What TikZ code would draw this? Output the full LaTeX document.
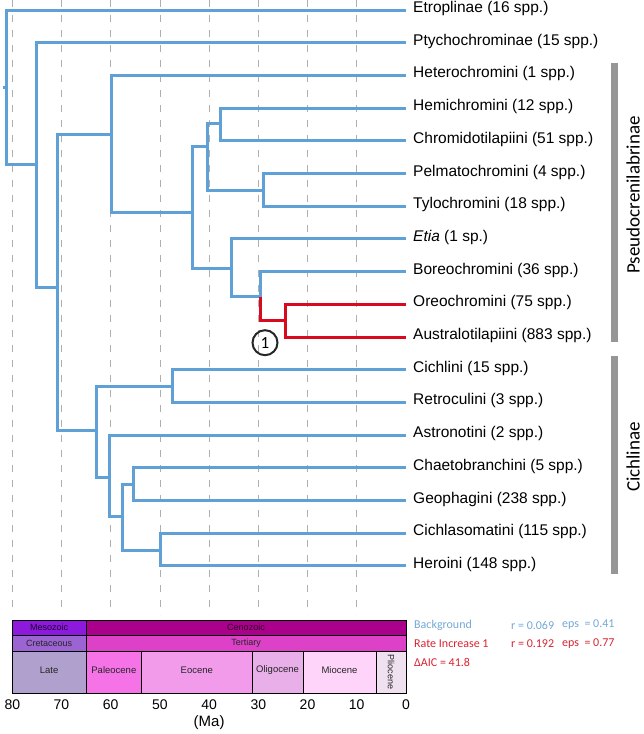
\documentclass[tikz,border=0pt]{standalone}
\usepackage{fontspec}
\setmainfont{Liberation Sans}
\newfontfamily\humanist{Carlito}
\usetikzlibrary{positioning}
\definecolor{treeblue}{RGB}{95,160,215}
\definecolor{ratered}{RGB}{215,10,30}
\definecolor{gridgray}{RGB}{175,175,175}
\definecolor{cladegray}{RGB}{150,150,150}
\definecolor{legblue}{RGB}{115,168,215}
\definecolor{legred}{RGB}{215,35,50}
\definecolor{mesoC}{RGB}{140,25,220}
\definecolor{cenoC}{RGB}{170,0,140}
\definecolor{cretC}{RGB}{155,100,210}
\definecolor{tertC}{RGB}{220,65,200}
\definecolor{lateC}{RGB}{175,160,205}
\definecolor{paleoC}{RGB}{245,115,230}
\definecolor{eoC}{RGB}{242,155,235}
\definecolor{oligoC}{RGB}{232,175,232}
\definecolor{mioC}{RGB}{255,212,250}
\definecolor{plioC}{RGB}{240,225,240}

\begin{document}
\begin{tikzpicture}[x=1pt, y=-1pt,
        branch/.style={draw=treeblue, line width=3pt},
        rateshift/.style={draw=ratered, line width=3pt},
        tip/.style={anchor=west, inner xsep=7pt, inner ysep=0pt, text height=0.75em, text depth=0.25em, font=\fontsize{15.5}{18}\selectfont},
        gridline/.style={draw=gridgray, line width=0.8pt, dash pattern=on 7pt off 8pt},
        cladebar/.style={draw=cladegray, line width=7pt},
        cladelab/.style={rotate=90, font=\humanist\fontsize{19}{22}\selectfont},
        band/.style={draw=black, line width=1pt},
        bandlab/.style={inner sep=0pt, font=\fontsize{9}{10}\selectfont},
        axislab/.style={font=\fontsize{14}{16}\selectfont},
        leg/.style={anchor=west, inner sep=0pt, font=\humanist\fontsize{12}{14}\selectfont}]
        \useasboundingbox (0,0) rectangle (644,734);

        \foreach \i in {0,...,7}
            \draw[gridline] (12.3+49.2*\i, 0) -- (12.3+49.2*\i, 615);

        \foreach \name/\lab [count=\i from 0] in {etro/Etroplinae (16 spp.), ptycho/Ptychochrominae (15 spp.), hetero/Heterochromini (1 spp.), hemi/Hemichromini (12 spp.), chromido/Chromidotilapiini (51 spp.), pelma/Pelmatochromini (4 spp.), tylo/Tylochromini (18 spp.), etia/{\textit{Etia} (1 sp.)}, boreo/Boreochromini (36 spp.), oreo/Oreochromini (75 spp.), austr/Australotilapiini (883 spp.), cichlini/Cichlini (15 spp.), retro/Retroculini (3 spp.), astro/Astronotini (2 spp.), chaeto/Chaetobranchini (5 spp.), geopha/Geophagini (238 spp.), cichlaso/Cichlasomatini (115 spp.), heroini/Heroini (148 spp.)}
            \node[tip] (\name) at (406, 10+32.7*\i) {\lab};

        \coordinate (stem) at (2.5,87);
        \coordinate (root) at (6,87);
        \coordinate (nA) at (36,164);
        \coordinate (nB) at (57.3,287.3);
        \coordinate (nC) at (111.7,134.3);
        \coordinate (nD) at (192.7,212.7);
        \coordinate (nE) at (207.3,146.7);
        \coordinate (nF) at (220,123.3);
        \coordinate (nG) at (263.3,190);
        \coordinate (nH) at (231.7,268.3);
        \coordinate (nI) at (260,296.7);
        \coordinate (nJ) at (285,320.5);
        \coordinate (nK) at (96,430.7);
        \coordinate (nL) at (172.7,386.7);
        \coordinate (nM) at (109,477.3);
        \coordinate (nN) at (122.3,516.7);
        \coordinate (nO) at (133.3,484.3);
        \coordinate (nP) at (160.3,550);

        \draw[branch] (stem) -- (root);
        \foreach \p/\c in {root/nA, nA/nB, nB/nC, nB/nK, nC/nD, nD/nE, nD/nH, nE/nF, nE/nG, nH/nI, nK/nL, nK/nM, nM/nN, nN/nO, nN/nP}
            \draw[branch] (\p) |- (\c);
        \foreach \p/\c in {root/etro, nA/ptycho, nC/hetero, nF/hemi, nF/chromido, nG/pelma, nG/tylo, nH/etia, nI/boreo, nL/cichlini, nL/retro, nM/astro, nO/chaeto, nO/geopha, nP/cichlaso, nP/heroini}
            \draw[branch] (\p) |- (\c.west);
        \draw[rateshift] (nI) |- (nJ);
        \draw[rateshift] (nJ) |- (oreo.west);
        \draw[rateshift] (nJ) |- (austr.west);

        \node[draw=black!85, circle, line width=2pt, minimum size=25pt, inner sep=0pt, font=\humanist\fontsize{17}{19}\selectfont] (shift1) at (265,342.7) {1};

        \draw[cladebar] (614,63) -- (614,342);
        \draw[cladebar] (614,356) -- (614,574);
        \node[cladelab] (pseudo) at (633,195) {Pseudocrenilabrinae};
        \node[cladelab] (cichlinae) at (633,457) {Cichlinae};

        \foreach \a/\b/\lab/\col/\txt in {12.3/86/Mesozoic/mesoC/black!80!mesoC, 86/406/Cenozoic/cenoC/black!75!cenoC}{
            \filldraw[band, fill=\col] (\a,620) rectangle (\b,635);
            \node[bandlab, text=\txt] (\lab) at ({(\a+\b)/2},627.5) {\lab};
        }
        \foreach \a/\b/\lab/\col in {12.3/86/Cretaceous/cretC, 86/406/Tertiary/tertC}{
            \filldraw[band, fill=\col] (\a,635) rectangle (\b,651);
            \node[bandlab, text=black!85] (\lab) at ({(\a+\b)/2},643) {\lab};
        }
        \foreach \a/\b/\lab/\col in {12.3/86/Late/lateC, 86/141.7/Paleocene/paleoC, 141.7/252/Eocene/eoC, 252/303/Oligocene/oligoC, 303/376/Miocene/mioC}{
            \filldraw[band, fill=\col] (\a,651) rectangle (\b,693);
            \node[bandlab, text=black!85, font=\fontsize{9.5}{11}\selectfont] (\lab) at ({(\a+\b)/2},670) {\lab};
        }
        \filldraw[band, fill=plioC] (376,651) rectangle (406,693);
        \node[bandlab, text=black!85, rotate=-90] (plio) at (391,672) {Pliocene};

        \foreach \t [count=\i from 0] in {80,70,60,50,40,30,20,10,0}
            \node[axislab] (ma\t) at (12.3+49.2*\i, 705) {\t};
        \node[axislab, font=\fontsize{15}{17}\selectfont] (unit) at (209.1,723) {(Ma)};

        \node[leg, text=legblue] (bg) at (414,625) {Background};
        \node[leg, text=legblue] (bgr) at (511,625) {r = 0.069};
        \node[leg, text=legblue] (bgeps) at (562,625) {eps \ = 0.41};
        \node[leg, text=legred] (ri) at (414,644) {Rate Increase 1};
        \node[leg, text=legred] (rir) at (511,644) {r = 0.192};
        \node[leg, text=legred] (rieps) at (562,644) {eps \ = 0.77};
        \node[leg, text=legred] (aic) at (414,662) {ΔAIC = 41.8};
    \end{tikzpicture}
\end{document}
